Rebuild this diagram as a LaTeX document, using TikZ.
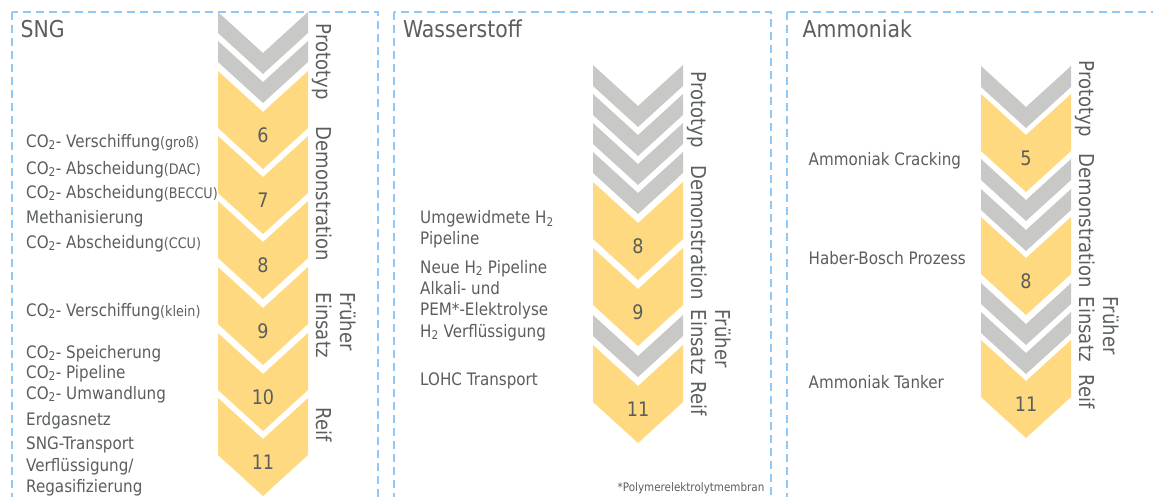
\documentclass[tikz,border=0pt]{standalone}
\usepackage{fontspec}
\usepackage{xcolor}
\setmainfont{DejaVu Sans}[FakeStretch=0.88]
\definecolor{rahmen}{RGB}{145,200,250}
\definecolor{grau}{RGB}{200,201,199}
\definecolor{gelb}{RGB}{255,217,128}
\definecolor{schrift}{RGB}{90,94,94}
\newcommand{\chev}[4]{\fill[#4](#1,#2-41)--(#1+45,#2)--(#1+90,#2-41)--(#1+90,#2-41+#3)--(#1+45,#2+#3)--(#1,#2-41+#3)--cycle;}
\newcommand{\zusatz}[1]{{\fontsize{14.5}{16}\selectfont#1}}

\begin{document}
\begin{tikzpicture}[x=1pt,y=-1pt,
		every node/.style={text=schrift,inner sep=0pt},
		titel/.style={anchor=base west,font=\fontsize{23.2}{26}\selectfont},
		eintrag/.style={anchor=base west,align=left,font=\fontsize{17.2}{20.5}\selectfont},
		stufe/.style={anchor=base west,rotate=-90,align=left,font=\fontsize{20.5}{24}\selectfont},
		nummer/.style={font=\fontsize{20}{24}\selectfont},
		fussnote/.style={anchor=base west,font=\fontsize{11.8}{14}\selectfont}]
		\useasboundingbox(0,0)rectangle(1153,496);
		\clip(0,0)rectangle(1153,496);
		\draw[rahmen,line width=2.2pt,dash pattern=on 8pt off 5pt](12,12)rectangle(378,520)(394,12)rectangle(771,520)(787,12)rectangle(1180,520);
		\foreach \t in {53,82}{\chev{218}{\t}{21}{grau}}
		\foreach \t/\n in {112/6,177/7,242/8,308/9,374/10,439/11}{\chev{218}{\t}{57}{gelb}\node[nummer](sng\n)at(263,\t+23){\n};}
		\foreach \t in {106,135,164,193,356}{\chev{593}{\t}{21}{grau}}
		\foreach \t/\n in {223/8,289/9,386/11}{\chev{593}{\t}{57}{gelb}\node[nummer](wst\n)at(638,\t+23){\n};}
		\foreach \t in {107,200,230,324,353}{\chev{981}{\t}{21}{grau}}
		\foreach \t/\n in {135/5,258/8,381/11}{\chev{981}{\t}{57}{gelb}\node[nummer](amm\n)at(1026,\t+23){\n};}
		\node[titel](sng)at(20.4,37){SNG};
		\node[titel](wst)at(402.8,37){Wasserstoff};
		\node[titel](amm)at(802.5,37){Ammoniak};
		\node[stufe](sngproto)at(316,23.5){Prototyp};
		\node[stufe](sngdemo)at(316,126.5){Demonstration};
		\node[stufe,anchor=west](sngfrueh)at(335.8,292.5){Früher\\Einsatz};
		\node[stufe](sngreif)at(316,407.5){Reif};
		\node[stufe](wstproto)at(691,71.5){Prototyp};
		\node[stufe](wstdemo)at(691,165){Demonstration};
		\node[stufe,anchor=west](wstfrueh)at(710.8,309.5){Früher\\Einsatz};
		\node[stufe](wstreif)at(691,381.5){Reif};
		\node[stufe](ammproto)at(1079,60.5){Prototyp};
		\node[stufe](ammdemo)at(1079,153.5){Demonstration};
		\node[stufe,anchor=west](ammfrueh)at(1098.8,296.5){Früher\\Einsatz};
		\node[stufe](ammreif)at(1079,374.5){Reif};
		\node[eintrag](co2gross)at(26,147){CO\textsubscript{2}- Verschiffung\zusatz{(groß)}};
		\node[eintrag](co2dac)at(26,174){CO\textsubscript{2}- Abscheidung\zusatz{(DAC)}};
		\node[eintrag](co2beccu)at(26,198){CO\textsubscript{2}- Abscheidung\zusatz{(BECCU)}};
		\node[eintrag](methan)at(26,223){Methanisierung};
		\node[eintrag](co2ccu)at(26,248){CO\textsubscript{2}- Abscheidung\zusatz{(CCU)}};
		\node[eintrag](co2klein)at(26,316){CO\textsubscript{2}- Verschiffung\zusatz{(klein)}};
		\node[eintrag](co2speicher)at(26,358){CO\textsubscript{2}- Speicherung};
		\node[eintrag](co2pipe)at(26,378){CO\textsubscript{2}- Pipeline};
		\node[eintrag](co2umw)at(26,399){CO\textsubscript{2}- Umwandlung};
		\node[eintrag](erdgas)at(26,425){Erdgasnetz};
		\node[eintrag](sngtrans)at(26,449){SNG-Transport};
		\node[eintrag](verfl)at(26,492){Verflüssigung/\\Regasifizierung};
		\node[eintrag](h2umgew)at(420,244){Umgewidmete H\textsubscript{2}\\Pipeline};
		\node[eintrag](h2neu)at(420,273){Neue H\textsubscript{2} Pipeline};
		\node[eintrag](elektrolyse)at(420,315){Alkali- und\\PEM*-Elektrolyse};
		\node[eintrag](h2verfl)at(420,337){H\textsubscript{2} Verflüssigung};
		\node[eintrag](lohc)at(420,385){LOHC Transport};
		\node[fussnote](pem)at(617.5,491){*Polymerelektrolytmembran};
		\node[eintrag](cracking)at(808.5,165){Ammoniak Cracking};
		\node[eintrag](haber)at(808.5,264){Haber-Bosch Prozess};
		\node[eintrag](tanker)at(808.5,388){Ammoniak Tanker};
\end{tikzpicture}
\end{document}
